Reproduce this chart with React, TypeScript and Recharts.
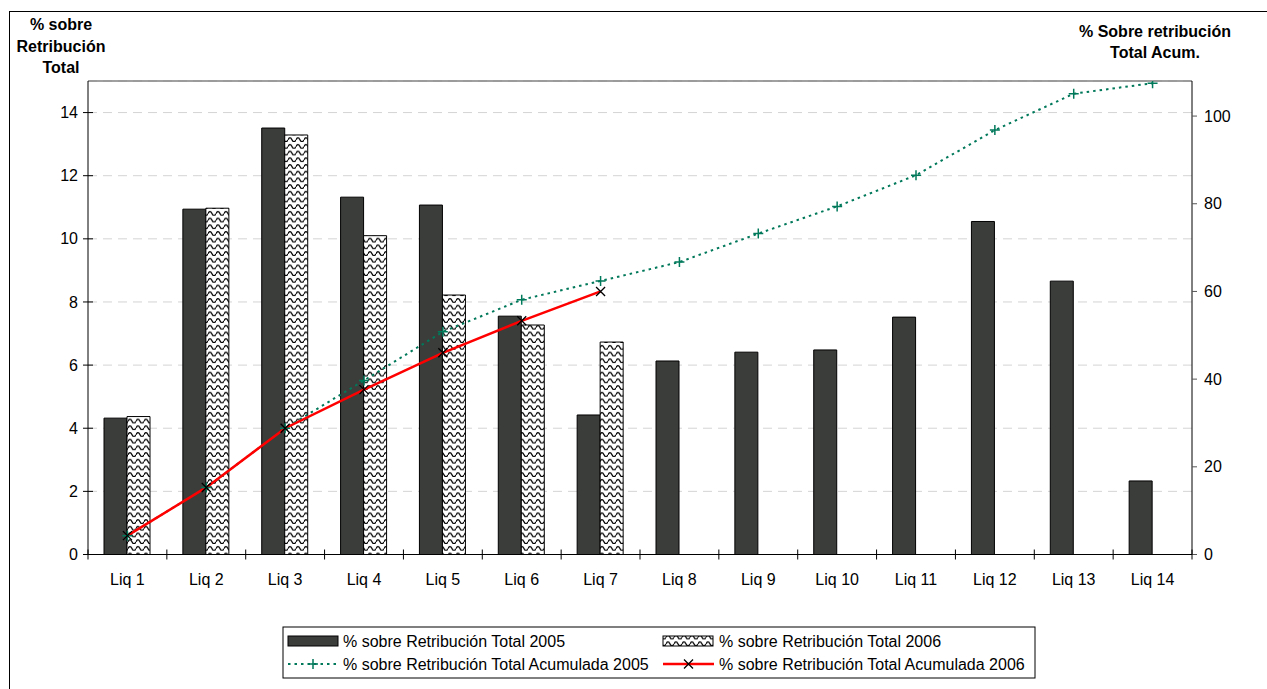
import React from 'react';
import { ComposedChart, Bar, Line, XAxis, YAxis, CartesianGrid, ReferenceLine } from 'recharts';

const categories = ['Liq 1', 'Liq 2', 'Liq 3', 'Liq 4', 'Liq 5', 'Liq 6', 'Liq 7', 'Liq 8', 'Liq 9', 'Liq 10', 'Liq 11', 'Liq 12', 'Liq 13', 'Liq 14'];
const pct2005 = [4.32, 10.94, 13.51, 11.32, 11.07, 7.55, 4.42, 6.13, 6.41, 6.48, 7.52, 10.55, 8.66, 2.33];
const pct2006 = [4.37, 10.97, 13.29, 10.1, 8.22, 7.27, 6.73, null, null, null, null, null, null, null];
const cum2005 = [4.3, 15.3, 28.8, 39.7, 50.8, 58.1, 62.4, 66.7, 73.2, 79.4, 86.5, 96.8, 105.1, 107.5];
const cum2006 = [4.3, 15.3, 28.8, 37.6, 46.0, 53.3, 60.0, null, null, null, null, null, null, null];
const leftTicks = [0, 2, 4, 6, 8, 10, 12, 14];
const rightTicks = [0, 20, 40, 60, 80, 100];
const leftDomain = [0, 15];
const rightDomain = [0, 108];

const legendLabels = [
  '% sobre Retribución Total 2005',
  '% sobre Retribución Total 2006',
  '% sobre Retribución Total Acumulada 2005',
  '% sobre Retribución Total Acumulada 2006',
];

const data = categories.map((c, i) => ({
  cat: c,
  p05: pct2005[i],
  p06: pct2006[i],
  c05: cum2005[i],
  c06: cum2006[i],
}));

const FONT = '"Liberation Sans", Arial, Helvetica, sans-serif';
const FS = 16;
const CHART_W = 1259;
const CHART_H = 681;
const LEFT_W = 80;
const RIGHT_W = 75;
const BAND = (CHART_W - LEFT_W - RIGHT_W) / categories.length;
const GREEN = '#00785a';
const DARK = '#3b3d3a';

const LeftTick = (props: any) => {
  const { x, y, payload } = props;
  return (
    <g>
      <line x1={x + 5} x2={x + 15} y1={y} y2={y} stroke="#000" strokeWidth={1} />
      <text x={x} y={y} dy="0.35em" textAnchor="end" fontFamily={FONT} fontSize={FS} fill="#000">
        {payload.value}
      </text>
    </g>
  );
};

const BottomTick = (props: any) => {
  const { x, y, payload, index } = props;
  const last = index === categories.length - 1;
  return (
    <g>
      <line x1={x - BAND / 2} x2={x - BAND / 2} y1={y - 5} y2={y + 5} stroke="#000" strokeWidth={1} />
      {last ? <line x1={x + BAND / 2} x2={x + BAND / 2} y1={y - 5} y2={y + 5} stroke="#000" strokeWidth={1} /> : null}
      <text x={x} y={y + 30.5} textAnchor="middle" fontFamily={FONT} fontSize={FS} fill="#000">
        {payload.value}
      </text>
    </g>
  );
};

const PlusDot = (props: any) => {
  const { cx, cy } = props;
  if (cx == null || cy == null) return <g />;
  return <path d={`M${cx - 5},${cy}h10M${cx},${cy - 5}v10`} stroke={GREEN} strokeWidth={1.5} fill="none" />;
};

const CrossDot = (props: any) => {
  const { cx, cy } = props;
  if (cx == null || cy == null) return <g />;
  return <path d={`M${cx - 4.5},${cy - 4.5}L${cx + 4.5},${cy + 4.5}M${cx + 4.5},${cy - 4.5}L${cx - 4.5},${cy + 4.5}`} stroke="#000" strokeWidth={1.3} fill="none" />;
};

const WavePattern = ({ id }: { id: string }) => (
  <pattern id={id} patternUnits="userSpaceOnUse" width={8} height={6.7}>
    <rect width={8} height={6.7} fill="#fff" />
    <path d="M0 4.5 Q2 0.5 4 4.5 T8 4.5" stroke="#000" strokeWidth={1.3} fill="none" />
  </pattern>
);

const Legend = () => {
  const r1 = 15;
  const r2 = 38;
  const txt = (x: number, y: number, s: string) => (
    <text x={x} y={y + 5.7} fontFamily={FONT} fontSize={FS} fill="#000">{s}</text>
  );
  return (
    <svg width={754} height={53} style={{ position: 'absolute', left: 274, top: 618 }}>
      <defs>
        <WavePattern id="waveLegend" />
      </defs>
      <rect x={1} y={1} width={752} height={51} fill="#fff" stroke="#000" strokeWidth={1} />
      <rect x={6} y={r1 - 5} width={50} height={10} fill={DARK} stroke="#000" strokeWidth={1} />
      {txt(61, r1, legendLabels[0])}
      <rect x={381} y={r1 - 5} width={50} height={10} fill="url(#waveLegend)" stroke="#000" strokeWidth={1} />
      {txt(437, r1, legendLabels[1])}
      <line x1={6} x2={56} y1={r2} y2={r2} stroke={GREEN} strokeWidth={2} strokeDasharray="2.5 4" />
      <path d={`M${31 - 5},${r2}h10M31,${r2 - 5}v10`} stroke={GREEN} strokeWidth={1.5} />
      {txt(61, r2, legendLabels[2])}
      <line x1={381} x2={432} y1={r2} y2={r2} stroke="#ff0000" strokeWidth={2.5} />
      <path d={`M${406.5 - 4.5},${r2 - 4.5}l9,9M${406.5 + 4.5},${r2 - 4.5}l-9,9`} stroke="#000" strokeWidth={1.3} />
      {txt(437, r2, legendLabels[3])}
    </svg>
  );
};

export default function App() {
  return (
    <div style={{ position: 'absolute', left: 8, top: 8, width: CHART_W, height: CHART_H, overflow: 'hidden', background: '#fff' }}>
      <div style={{ position: 'absolute', left: 1, top: 3, width: 1300, height: 720, border: '1px solid #000', boxSizing: 'border-box' }} />
      <ComposedChart
        width={CHART_W}
        height={CHART_H}
        data={data}
        margin={{ top: 73, right: 0, left: 0, bottom: 104.5 }}
        barCategoryGap="20.3%"
        barGap={0}
        style={{ position: 'absolute', left: 0, top: 0 }}
      >
        <defs>
          <WavePattern id="waveBar" />
        </defs>
        <CartesianGrid yAxisId="left" vertical={false} stroke="#d4d4d4" strokeDasharray="9 6" />
        <XAxis
          dataKey="cat"
          interval={0}
          tickLine={false}
          tickSize={0}
          tickMargin={0}
          height={30}
          axisLine={{ stroke: '#000', strokeWidth: 1 }}
          tick={<BottomTick />}
        />
        <YAxis
          yAxisId="left"
          domain={leftDomain}
          ticks={leftTicks}
          width={LEFT_W}
          tickLine={false}
          tickSize={0}
          tickMargin={10}
          axisLine={{ stroke: '#000', strokeWidth: 1 }}
          tick={<LeftTick />}
          allowDataOverflow
        />
        <YAxis
          yAxisId="right"
          orientation="right"
          domain={rightDomain}
          ticks={rightTicks}
          width={RIGHT_W}
          tickSize={5}
          tickMargin={7}
          tickLine={{ stroke: '#555' }}
          axisLine={{ stroke: '#000', strokeWidth: 1 }}
          tick={{ fill: '#000', fontSize: FS, fontFamily: FONT }}
          allowDataOverflow
        />
        <ReferenceLine yAxisId="left" y={15} stroke="#808080" strokeWidth={1.5} />
        <Bar yAxisId="left" dataKey="p05" fill={DARK} stroke="#000" strokeWidth={1} isAnimationActive={false} />
        <Bar yAxisId="left" dataKey="p06" fill="url(#waveBar)" stroke="#000" strokeWidth={1} isAnimationActive={false} />
        <Line
          yAxisId="right"
          type="linear"
          dataKey="c05"
          stroke={GREEN}
          strokeWidth={2}
          strokeDasharray="2.5 4"
          dot={<PlusDot />}
          activeDot={false}
          isAnimationActive={false}
        />
        <Line
          yAxisId="right"
          type="linear"
          dataKey="c06"
          stroke="#ff0000"
          strokeWidth={2.5}
          dot={<CrossDot />}
          activeDot={false}
          isAnimationActive={false}
        />
      </ComposedChart>
      <div style={{ position: 'absolute', left: -7, top: 6, width: 120, textAlign: 'center', fontFamily: FONT, fontWeight: 'bold', fontSize: FS, lineHeight: '21.5px', color: '#000' }}>
        % sobre<br />Retribución<br />Total
      </div>
      <div style={{ position: 'absolute', left: 1047, top: 12.5, width: 200, textAlign: 'center', fontFamily: FONT, fontWeight: 'bold', fontSize: FS, lineHeight: '21px', color: '#000' }}>
        % Sobre retribución<br />Total Acum.
      </div>
      <Legend />
    </div>
  );
}
